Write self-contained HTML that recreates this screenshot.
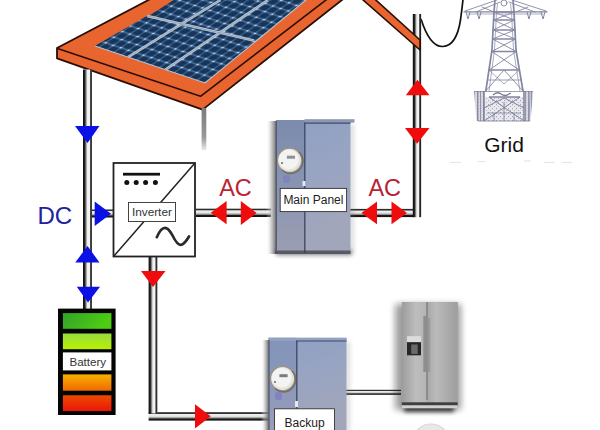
<!DOCTYPE html>
<html><head><meta charset="utf-8">
<style>
html,body{margin:0;padding:0;background:#fff;width:600px;height:430px;overflow:hidden}
svg{display:block}
text{font-family:"Liberation Sans",sans-serif}
</style></head>
<body>
<svg width="600" height="430" viewBox="0 0 600 430">
<defs>
  <linearGradient id="pv" x1="0" y1="0" x2="1" y2="0">
    <stop offset="0" stop-color="#0c0c0c"/>
    <stop offset="0.2" stop-color="#222"/>
    <stop offset="0.36" stop-color="#9a9a9a"/>
    <stop offset="0.48" stop-color="#eee"/>
    <stop offset="0.72" stop-color="#f6f6f6"/>
    <stop offset="0.8" stop-color="#555"/>
    <stop offset="0.92" stop-color="#222"/>
    <stop offset="1" stop-color="#777"/>
  </linearGradient>
  <linearGradient id="ph" x1="0" y1="0" x2="0" y2="1">
    <stop offset="0" stop-color="#222"/>
    <stop offset="0.16" stop-color="#333"/>
    <stop offset="0.24" stop-color="#eee"/>
    <stop offset="0.5" stop-color="#e6e6e6"/>
    <stop offset="0.7" stop-color="#888"/>
    <stop offset="0.8" stop-color="#1a1a1a"/>
    <stop offset="1" stop-color="#111"/>
  </linearGradient>
  <linearGradient id="pole" x1="0" y1="0" x2="0" y2="1">
    <stop offset="0" stop-color="#7a7a7a"/>
    <stop offset="0.7" stop-color="#9a9a9a"/>
    <stop offset="1" stop-color="#e8e8e8"/>
  </linearGradient>
  <linearGradient id="g1" x1="0" y1="0" x2="1" y2="0.3">
    <stop offset="0" stop-color="#34a02c"/>
    <stop offset="1" stop-color="#4ccf10"/>
  </linearGradient>
  <linearGradient id="g2" x1="0" y1="0" x2="0" y2="1">
    <stop offset="0" stop-color="#98dc40"/>
    <stop offset="1" stop-color="#b8f000"/>
  </linearGradient>
  <linearGradient id="g4" x1="0" y1="0" x2="0" y2="1">
    <stop offset="0" stop-color="#f8b000"/>
    <stop offset="1" stop-color="#f06a00"/>
  </linearGradient>
  <linearGradient id="g5" x1="0" y1="0" x2="0" y2="1">
    <stop offset="0" stop-color="#f04a00"/>
    <stop offset="1" stop-color="#e81808"/>
  </linearGradient>
  <linearGradient id="panelg" x1="0" y1="0" x2="0.3" y2="1">
    <stop offset="0" stop-color="#8ea0c4"/>
    <stop offset="0.5" stop-color="#98a4c2"/>
    <stop offset="1" stop-color="#a2a6ba"/>
  </linearGradient>
  <linearGradient id="shL" x1="0" y1="0" x2="1" y2="0">
    <stop offset="0" stop-color="#fff" stop-opacity="0"/>
    <stop offset="0.5" stop-color="#aaa" stop-opacity="0.6"/>
    <stop offset="1" stop-color="#555" stop-opacity="0.9"/>
  </linearGradient>
  <linearGradient id="panelLm" x1="0" y1="0" x2="0" y2="1">
    <stop offset="0" stop-color="#7c8cae"/>
    <stop offset="0.5" stop-color="#8894b2"/>
    <stop offset="1" stop-color="#9c9eb2"/>
  </linearGradient>
  <linearGradient id="panelL" x1="0" y1="0" x2="0" y2="1">
    <stop offset="0" stop-color="#8294b8"/>
    <stop offset="0.5" stop-color="#8a98ba"/>
    <stop offset="1" stop-color="#9a9eb8"/>
  </linearGradient>
  <linearGradient id="fridgeg" x1="0" y1="0" x2="1" y2="0">
    <stop offset="0" stop-color="#9c9c9c"/>
    <stop offset="0.25" stop-color="#bdbdbd"/>
    <stop offset="0.45" stop-color="#b4b4b4"/>
    <stop offset="1" stop-color="#a4a4a4"/>
  </linearGradient>
  <linearGradient id="fridgeR" x1="0" y1="0" x2="1" y2="0">
    <stop offset="0" stop-color="#a8a8a8"/>
    <stop offset="0.3" stop-color="#bababa"/>
    <stop offset="1" stop-color="#9e9e9e"/>
  </linearGradient>
  <pattern id="cells" x="0" y="0" width="8" height="10" patternUnits="userSpaceOnUse" patternTransform="matrix(0.95,0.31,0.83,-0.56,0,0)">
    <rect width="8" height="10" fill="#3f6590"/>
    <rect x="0.7" y="1.2" width="6.6" height="7.6" rx="2.2" fill="#173559"/>
    <circle cx="0" cy="0" r="1.2" fill="#b0cce8"/>
    <circle cx="8" cy="0" r="1.2" fill="#b0cce8"/>
    <circle cx="0" cy="10" r="1.2" fill="#b0cce8"/>
    <circle cx="8" cy="10" r="1.2" fill="#b0cce8"/>
  </pattern>
  <pattern id="tex" x="0" y="0" width="3" height="3" patternUnits="userSpaceOnUse">
    <rect width="3" height="3" fill="#d0d1dc"/>
    <rect x="0" y="0" width="1" height="3" fill="#9496ae"/>
    <rect x="1.6" y="1.5" width="1.4" height="1" fill="#e8e8ee"/>
  </pattern>
  <pattern id="tex2" x="0" y="0" width="4" height="4" patternUnits="userSpaceOnUse">
    <rect width="4" height="4" fill="#e8e8ee"/>
    <rect x="0" y="0" width="1" height="1.2" fill="#a4a6ba"/>
    <rect x="2" y="2" width="1" height="1" fill="#b0b2c4"/>
  </pattern>
  <filter id="blur1" x="-1" y="-1" width="3" height="3"><feGaussianBlur stdDeviation="2"/></filter>
  <filter id="blur2" x="-0.5" y="-0.5" width="2" height="2"><feGaussianBlur stdDeviation="3"/></filter>
</defs>

<!-- ROOF left: top surface -->
<polygon points="57,48 148.5,0 326,0 200.5,96.3" fill="#e8652f"/>
<polygon points="57,48 200.5,96.3 326,0 342,0 202.6,109.6 57,58.3" fill="#e8652f"/>
<g fill="none" stroke="#2a0e06" stroke-linejoin="round">
  <polyline points="158,-5 57,48 57,58.3 202.6,109.6 348.3,-5" stroke-width="1.8"/>
  <polyline points="57.5,48.5 200.5,96.3 332.5,-5" stroke-width="1.6"/>
</g>
<!-- solar panel -->
<polygon points="95,46 147,16 150,15.3 174,0 306,0 205,83" fill="#1b3964"/>
<polygon points="95,46 147,16 150,15.3 174,0 306,0 205,83" fill="url(#cells)"/>
<polyline points="95,46 205,83 306,0" fill="none" stroke="#b8c4d4" stroke-width="1.1"/>
<!-- panel gaps -->
<g stroke="#c0cad6" stroke-width="2.6" fill="none">
  <line x1="147" y1="16" x2="254" y2="40.6"/>
  <line x1="128" y1="57.2" x2="220.5" y2="0"/>
  <line x1="165.5" y1="69.5" x2="268" y2="0"/>
</g>
<g stroke="#7f90a6" stroke-width="0.7" fill="none">
  <line x1="147" y1="16" x2="254" y2="40.6"/>
  <line x1="128" y1="57.2" x2="220.5" y2="0"/>
  <line x1="165.5" y1="69.5" x2="268" y2="0"/>
</g>


<!-- wire -->
<path d="M421,19 C427,38 434,47 443,46.5 C452,46 458,36 460.5,20 C461.5,12 462.5,5 463,-1" fill="none" stroke="#111" stroke-width="1.7"/>

<!-- TOWER -->
<g stroke="#8486a2" stroke-width="0.9" fill="none" stroke-linecap="round">
  <!-- arms -->
  <line x1="464" y1="11.8" x2="547" y2="11.8" stroke-width="1.3"/>
  <line x1="468" y1="14" x2="543" y2="14" stroke-width="0.7"/>
  <line x1="465" y1="11" x2="497" y2="0"/>
  <line x1="476" y1="12" x2="500" y2="2"/>
  <line x1="546" y1="11" x2="512" y2="0"/>
  <line x1="535" y1="12" x2="509" y2="2"/>
  <line x1="482" y1="7" x2="494" y2="12"/>
  <line x1="528" y1="7" x2="516" y2="12"/>
  <polyline points="466,12 468,19 470,12" stroke-width="1"/>
  <polyline points="477,12 479,19 481,12" stroke-width="1"/>
  <polyline points="527,12 529,19 531,12" stroke-width="1"/>
  <polyline points="541,12 543,19 545,12" stroke-width="1"/>
  <circle cx="504" cy="3" r="3" stroke-width="0.9"/>
  <!-- legs -->
  <polyline points="495,0 494,12 492,50 485.8,91" stroke-width="1.7"/>
  <polyline points="513,0 514,12 516,50 523,91" stroke-width="1.7"/>
  <polyline points="497.5,4 496.5,12 494.5,50 489,91" stroke-width="0.7"/>
  <polyline points="510.5,4 511.5,12 513.5,50 520,91" stroke-width="0.7"/>
  <line x1="494.0" y1="12" x2="514.0" y2="12" stroke-width="1.3"/>
  <line x1="493.6" y1="20" x2="514.4" y2="20" stroke-width="1.3"/>
  <line x1="493.1" y1="30" x2="514.9" y2="30" stroke-width="1.3"/>
  <line x1="492.6" y1="39" x2="515.4" y2="39" stroke-width="1.3"/>
  <line x1="491.8" y1="51.5" x2="516.3" y2="51.5" stroke-width="1.3"/>
  <line x1="489.0" y1="70" x2="519.4" y2="70" stroke-width="1.3"/>
  <line x1="494.0" y1="12" x2="514.4" y2="20"/>
  <line x1="514.0" y1="12" x2="493.6" y2="20"/>
  <line x1="493.6" y1="20" x2="514.9" y2="30"/>
  <line x1="514.4" y1="20" x2="493.1" y2="30"/>
  <line x1="493.1" y1="30" x2="515.4" y2="39"/>
  <line x1="514.9" y1="30" x2="492.6" y2="39"/>
  <line x1="492.6" y1="39" x2="516.3" y2="51.5"/>
  <line x1="515.4" y1="39" x2="491.8" y2="51.5"/>
  <line x1="491.8" y1="51.5" x2="519.4" y2="70"/>
  <line x1="516.3" y1="51.5" x2="489.0" y2="70"/>
  <polyline points="485.8,91 504,70 523.0,91"/>
  <polyline points="489.0,70 504,84 519.4,70" stroke-width="0.7"/>
  <line x1="487.5" y1="80" x2="521.1" y2="80" stroke-width="0.8"/>
</g>
<!-- tower base -->
<g>
  <polygon points="474,91 485,91 485,121 476.5,121" fill="url(#tex)"/>
  <polygon points="523,91 533.4,91 530.4,121 523,121" fill="url(#tex)"/>
  <polygon points="485,97 523,97 523,121 485,121" fill="url(#tex2)"/>
</g>
<g stroke="#7a7c96" stroke-width="0.9" fill="none">
  <line x1="474" y1="91.5" x2="533" y2="91.5" stroke-width="1.2" opacity="0.7"/>
  <line x1="489" y1="97" x2="520" y2="97" stroke-width="1.4"/>
  <path d="M493,95 Q497,91 501,94 T509,94 L511,93" stroke-width="1.3"/>
  <line x1="484" y1="91" x2="484" y2="121" stroke-width="1.3"/>
  <line x1="524" y1="91" x2="524" y2="121" stroke-width="1.3"/>
  <line x1="489" y1="97" x2="524" y2="121"/>
  <line x1="520" y1="97" x2="484" y2="121"/>
  <line x1="484" y1="108" x2="504" y2="98"/>
  <line x1="524" y1="108" x2="504" y2="98"/>
  <line x1="478" y1="121" x2="530" y2="121" stroke-width="1.1" opacity="0.8"/>
  <line x1="487" y1="113" x2="521" y2="113" stroke-width="0.7"/>
  <line x1="494" y1="113" x2="494" y2="121" stroke-width="0.8"/>
  <line x1="504" y1="102" x2="504" y2="121" stroke-width="0.8"/>
  <line x1="514" y1="113" x2="514" y2="121" stroke-width="0.8"/>
  <line x1="478" y1="92" x2="478" y2="121" stroke-width="0.7"/>
  <line x1="530" y1="92" x2="529" y2="121" stroke-width="0.7"/>
</g>
<text x="504" y="151.8" font-size="21" fill="#111" text-anchor="middle">Grid</text>

<g stroke="#e6e6e6" stroke-width="1.2">
  <line x1="450" y1="162.5" x2="461" y2="162.5"/>
  <line x1="478" y1="161.5" x2="485" y2="161.5"/>
  <line x1="524" y1="161" x2="531" y2="161"/>
  <line x1="544" y1="162.5" x2="555" y2="162.5"/>
  <line x1="562" y1="162.5" x2="572" y2="162.5"/>
</g>
<!-- PIPES -->
<rect x="83" y="69.5" width="9" height="239.5" fill="url(#pv)"/>
<rect x="201.6" y="108" width="4.7" height="42" fill="url(#pole)"/>
<rect x="92" y="209.5" width="21" height="8" fill="url(#ph)"/>
<rect x="196" y="208.7" width="75" height="8.3" fill="url(#ph)"/>
<rect x="348" y="208.9" width="66" height="8.2" fill="url(#ph)"/>
<rect x="412.8" y="14" width="8.4" height="203.2" fill="url(#pv)"/>
<rect x="148.6" y="412.2" width="122" height="8.4" fill="url(#ph)"/>
<rect x="148.6" y="257" width="8.9" height="156.4" fill="url(#pv)"/>
<rect x="345" y="389.8" width="56" height="5" fill="url(#ph)"/>

<!-- ROOF right band -->
<polygon points="354,-8 367,-8 420,40 420,50" fill="#e8652f" stroke="#2a0e06" stroke-width="1.6" stroke-linejoin="round"/>

<!-- ARROWS blue -->
<g fill="#0a10e6">
  <polygon points="75,126 99.5,126 87.5,143"/>
  <polygon points="94.7,201.5 94.7,226 111,213.7"/>
  <polygon points="87.5,246 99.5,262.5 75.3,262.5"/>
  <polygon points="76.8,286.7 100,286.7 88,302.4"/>
</g>
<!-- ARROWS red -->
<g fill="#f00c0c">
  <polygon points="210.8,212.8 226.6,201 226.6,224.2"/>
  <polygon points="240.8,201 256.7,213 240.8,225"/>
  <polygon points="361.4,213 377,201.5 377,224.3"/>
  <polygon points="391.5,201.5 407,213 391.5,224.3"/>
  <polygon points="417.5,79.8 429.5,95.3 405.8,95.3"/>
  <polygon points="405,127.9 429.5,127.9 417,143.7"/>
  <polygon points="141,271 165.5,271 153,287"/>
  <polygon points="195,404.2 210.8,416.3 195,428.5"/>
</g>

<!-- DC / AC text -->
<text x="37.5" y="223.6" font-size="24" fill="#22229a">DC</text>
<text x="219.2" y="195.8" font-size="23.5" fill="#bb2434">AC</text>
<text x="368.4" y="195.8" font-size="23.5" fill="#b42436">AC</text>

<!-- INVERTER -->
<rect x="113.5" y="163" width="81.5" height="93.5" fill="#fff" stroke="#222" stroke-width="1.8"/>
<line x1="113.5" y1="256.5" x2="195" y2="163" stroke="#222" stroke-width="1.5"/>
<rect x="123" y="172.8" width="37" height="2.8" fill="#111"/>
<g fill="#111"><circle cx="126.8" cy="182.4" r="2.5"/><circle cx="136.2" cy="182.4" r="2.5"/><circle cx="145.6" cy="182.4" r="2.5"/><circle cx="155.4" cy="182.4" r="2.5"/></g>
<rect x="128.5" y="202.5" width="47" height="19" fill="#fff" stroke="#444" stroke-width="1"/>
<text x="151.9" y="215.8" font-size="11.8" fill="#333" text-anchor="middle">Inverter</text>
<path d="M156.8,237.2 C159.5,231 162,227.9 165,227.9 C168.5,227.9 170.5,232 172.5,235.5 C175,240.5 177.5,244.8 180.5,244.8 C184,244.8 187,240 189,236.5" fill="none" stroke="#2a2a2a" stroke-width="2.7" stroke-linecap="round"/>

<!-- MAIN PANEL -->
<rect x="266" y="121" width="10.5" height="133" fill="url(#shL)"/>
<rect x="276" y="250" width="76" height="5" fill="#222" opacity="0.6" filter="url(#blur1)"/>
<rect x="349" y="124" width="5" height="128" fill="#777" opacity="0.25" filter="url(#blur1)"/>
<rect x="276" y="120" width="74.5" height="133" fill="url(#panelg)"/>
<rect x="276" y="120" width="28.5" height="133" fill="url(#panelLm)"/>
<rect x="304.5" y="119.2" width="50" height="3.4" fill="#8c98b2"/>
<line x1="304.8" y1="122.6" x2="304.8" y2="253" stroke="#3a4660" stroke-width="1.3"/>
<line x1="304.5" y1="123.2" x2="350.5" y2="123.2" stroke="#3e4a66" stroke-width="1.2"/>
<rect x="275.5" y="250.5" width="75" height="3.5" fill="#3a3a44" opacity="0.7"/>
<circle cx="289.6" cy="160.3" r="12.2" fill="#e4e2dc"/>
<circle cx="289.6" cy="160.3" r="12.2" fill="none" stroke="#9a9282" stroke-width="1.3"/>
<circle cx="288.8" cy="159.5" r="10" fill="#f2f3f2"/>
<rect x="286.9" y="155.7" width="8.1" height="3" fill="#8e9094"/>
<circle cx="282" cy="163" r="1" fill="#666"/>
<rect x="283" y="175" width="7" height="8" rx="3" fill="#7a70c8" opacity="0.45"/>
<path d="M299,152 A12.2,12.2 0 0 1 282,170" fill="none" stroke="#6e6658" stroke-width="1.6" opacity="0.8"/>
<line x1="276.3" y1="121" x2="276.3" y2="253" stroke="#4a5266" stroke-width="1.1"/>
<rect x="302.5" y="181" width="3" height="5" fill="#e8e8f0"/>
<rect x="280.2" y="188.4" width="66.4" height="23.2" fill="#fff" stroke="#333" stroke-width="0.9"/>
<text x="313.4" y="204.3" font-size="12" fill="#222" text-anchor="middle">Main Panel</text>

<!-- BATTERY -->
<rect x="58" y="308.6" width="57.6" height="106.4" fill="#050505"/>
<rect x="62.9" y="313.1" width="48.5" height="15.7" fill="url(#g1)"/>
<rect x="62.9" y="333.5" width="48.5" height="15.7" fill="url(#g2)"/>
<rect x="62.9" y="352.4" width="48.5" height="18" fill="#fff"/>
<rect x="62.9" y="374.4" width="48.5" height="16.3" fill="url(#g4)"/>
<rect x="62.9" y="395.3" width="48.5" height="15.8" fill="url(#g5)"/>
<text x="87.8" y="366" font-size="11.6" fill="#333" text-anchor="middle">Battery</text>

<!-- BACKUP PANEL -->
<rect x="261" y="340" width="8" height="92" fill="url(#shL)"/>
<rect x="345" y="342" width="5" height="90" fill="#777" opacity="0.25" filter="url(#blur1)"/>
<rect x="268.6" y="337.8" width="77.9" height="93" fill="url(#panelg)"/>
<rect x="268.6" y="337.8" width="28" height="93" fill="url(#panelL)"/>
<rect x="268.6" y="337.8" width="77.9" height="3.2" fill="#94a2c2"/>
<line x1="269" y1="340" x2="269" y2="430" stroke="#4a5266" stroke-width="1.2"/>
<line x1="296.8" y1="340.4" x2="296.8" y2="409" stroke="#3a4660" stroke-width="1.3"/>
<line x1="296.5" y1="341" x2="346.5" y2="341" stroke="#3e4a66" stroke-width="1.2"/>
<circle cx="282.6" cy="378.6" r="12.2" fill="#e4e2dc"/>
<circle cx="282.6" cy="378.6" r="12.2" fill="none" stroke="#9a9282" stroke-width="1.3"/>
<circle cx="281.8" cy="377.8" r="10" fill="#f2f3f2"/>
<rect x="279.4" y="374.2" width="8.2" height="3" fill="#7a7c80"/>
<path d="M292,371 A12.2,12.2 0 0 1 275,388.5" fill="none" stroke="#6e6658" stroke-width="1.6" opacity="0.8"/>
<circle cx="275" cy="382" r="1" fill="#666"/>
<rect x="275" y="392" width="7" height="8" rx="2.5" fill="#7a70c8" opacity="0.55"/>
<rect x="295" y="401" width="3" height="6" fill="#e8e8f0"/>
<rect x="274.5" y="408.8" width="60" height="25" fill="#fff" stroke="#333" stroke-width="0.9"/>
<text x="304.6" y="426.6" font-size="12" fill="#222" text-anchor="middle">Backup</text>

<!-- FRIDGE -->
<rect x="395" y="304" width="66" height="106" fill="#111" opacity="0.4" filter="url(#blur2)"/>
<rect x="404" y="404" width="50" height="8" fill="#000" opacity="0.7" filter="url(#blur1)"/>
<rect x="401.8" y="302" width="55.8" height="104.7" fill="url(#fridgeg)"/>
<rect x="427" y="302" width="30.6" height="104.7" fill="url(#fridgeR)"/>
<line x1="427" y1="302" x2="427" y2="400" stroke="#6a6a6a" stroke-width="1"/>
<rect x="423.3" y="316" width="3.6" height="56" fill="#8e8e8e"/>
<rect x="427.6" y="318" width="2.6" height="54" fill="#9a9a9a"/>
<rect x="407" y="336.2" width="14" height="5.8" fill="#dcdcdc"/>
<rect x="407" y="342.2" width="14" height="13.1" fill="#262626"/>
<rect x="411.2" y="344.5" width="6.5" height="9.4" fill="#6a6a6a"/>
<rect x="401.8" y="402.3" width="55.8" height="3.2" fill="#3e3e3e"/>
<rect x="401.8" y="405.4" width="55.8" height="2.9" fill="#d0d0d0"/>

<!-- bottom circle -->
<circle cx="431" cy="442" r="18" fill="#e8e8e8" stroke="#d8d8d8" stroke-width="1.2"/>

</svg>
</body></html>
